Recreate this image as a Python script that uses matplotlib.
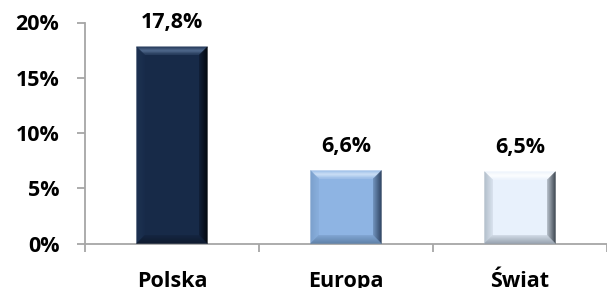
import numpy as np
import matplotlib
matplotlib.use("Agg")
import matplotlib.pyplot as plt
from matplotlib.patches import Polygon
from matplotlib.colors import to_rgb

# dane
kategorie = ["Polska", "Europa", "Świat"]
wartosci = [0.178, 0.066, 0.065]
etykiety = ["17,8%", "6,6%", "6,5%"]
kolory = ["#172A48", "#8EB4E3", "#E8F1FC"]
# fazowanie: gora, lewo, prawo, dol
fazy = [
    ["#556F93", "#1E3353", "#03070D", "#0E1A2E"],
    ["#D2E4F9", "#7BA0CC", "#2A3F5C", "#5E7FA6"],
    ["#FFFFFF", "#B0BCC8", "#353E48", "#949FAC"],
]
y_ticks = [0, 0.05, 0.10, 0.15, 0.20]
y_labels = ["0%", "5%", "10%", "15%", "20%"]

plt.rcParams["font.family"] = ["Open Sans", "DejaVu Sans"]
rozm = 15.5

fig = plt.figure(figsize=(6.07, 2.88), dpi=100)
ax = fig.add_axes([85 / 607, 44.5 / 288, 1 - 85 / 607, (243.5 - 22.5) / 288])

x = np.arange(len(kategorie))
szer = 0.407
bars = ax.bar(x, wartosci, width=szer, color=kolory, zorder=2)

ax.set_ylim(0, 0.20)
ax.set_xlim(-0.5, -0.5 + 522 / 174.5)

for s in ["top", "right"]:
    ax.spines[s].set_visible(False)
for s in ["left", "bottom"]:
    ax.spines[s].set_color("#A6A6A6")
    ax.spines[s].set_linewidth(1.3)

ax.set_yticks(y_ticks)
ax.set_yticklabels(y_labels, fontsize=rozm, fontweight="bold")
ax.tick_params(axis="y", length=5.5, width=1.3, color="#A6A6A6", pad=13)

ax.set_xticks([-0.5, 0.5, 1.5, 2.5])
ax.set_xticklabels([])
ax.tick_params(axis="x", which="major", length=5.5, width=1.3, color="#A6A6A6", direction="out")
ax.set_xticks(x, minor=True)
ax.set_xticklabels(kategorie, minor=True, fontsize=rozm, fontweight="bold")
ax.tick_params(axis="x", which="minor", length=0, pad=20)

# etykiety wartosci
for b, t in zip(bars, etykiety):
    ax.annotate(t, (b.get_x() + b.get_width() / 2, b.get_height()),
                xytext=(0, 13.5), textcoords="offset points",
                ha="center", va="baseline", fontsize=rozm, fontweight="bold")

# efekt fazowania (paski z przejsciem koloru)
fig.canvas.draw()
inv = ax.transData.inverted()
d = 8
n = 8
for b, f, base in zip(bars, fazy, kolory):
    (x0, y0), (x1, y1) = ax.transData.transform([(b.get_x(), 0), (b.get_x() + b.get_width(), b.get_height())])
    cb = np.array(to_rgb(base))
    for k in range(n):
        a, c = d * k / n, d * (k + 1) / n
        t = k / n
        czesci = [
            [(x0 + a, y1 - a), (x1 - a, y1 - a), (x1 - c, y1 - c), (x0 + c, y1 - c)],
            [(x0 + a, y0 + a), (x0 + a, y1 - a), (x0 + c, y1 - c), (x0 + c, y0 + c)],
            [(x1 - a, y0 + a), (x1 - a, y1 - a), (x1 - c, y1 - c), (x1 - c, y0 + c)],
            [(x0 + a, y0 + a), (x1 - a, y0 + a), (x1 - c, y0 + c), (x0 + c, y0 + c)],
        ]
        for j, (pts, ce) in enumerate(zip(czesci, f)):
            ce = np.array(to_rgb(ce))
            if j == 0:
                w = 1 - abs(t - 0.45) * 1.6
            else:
                w = 1 - t * 0.7
            col = np.clip(cb + (ce - cb) * w, 0, 1)
            ax.add_patch(Polygon(inv.transform(pts), closed=True, facecolor=col,
                                 edgecolor=col, linewidth=0.3, zorder=3, clip_on=False))

fig.savefig("out.png", dpi=100)
